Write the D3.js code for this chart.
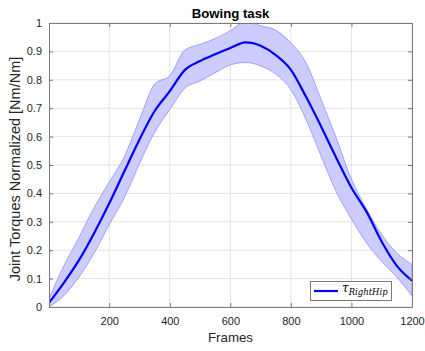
<!DOCTYPE html>
<html><head><meta charset="utf-8">
<script src="https://cdn.jsdelivr.net/npm/d3@7"></script>
<style>body{margin:0;background:#fff}svg{display:block}</style>
</head><body>
<script>
const frames = [1,50,100,150,200,250,300,350,400,450,500,550,600,650,700,750,800,850,900,950,1000,1050,1100,1150,1200];
const meanVals = [0.015,0.085,0.165,0.26,0.365,0.478,0.59,0.69,0.76,0.835,0.866,0.89,0.912,0.932,0.92,0.887,0.835,0.74,0.635,0.525,0.42,0.335,0.23,0.145,0.093];
const upperVals = [0.03,0.145,0.245,0.35,0.44,0.53,0.66,0.785,0.815,0.905,0.925,0.945,0.973,1.005,0.99,0.975,0.93,0.86,0.73,0.595,0.45,0.345,0.255,0.19,0.15];
const lowerVals = [0.0,0.04,0.105,0.19,0.29,0.385,0.505,0.615,0.695,0.77,0.796,0.825,0.852,0.861,0.849,0.82,0.765,0.66,0.53,0.405,0.31,0.225,0.16,0.105,0.04];
const xTicks = [200,400,600,800,1000,1200];
const yTicks = [0,0.1,0.2,0.3,0.4,0.5,0.6,0.7,0.8,0.9,1];

const W=425,H=351;
const m={l:49,r:13,t:23,b:44};
const svg=d3.select("body").append("svg").attr("width",W).attr("height",H);
const x=d3.scaleLinear().domain([1,1200]).range([m.l,W-m.r]);
const y=d3.scaleLinear().domain([0,1]).range([H-m.b,m.t]);
const font="'Liberation Sans', Arial, sans-serif";

svg.append("defs").append("clipPath").attr("id","clip").append("rect")
  .attr("x",m.l).attr("y",m.t).attr("width",W-m.l-m.r).attr("height",H-m.t-m.b);

// grid
const g=svg.append("g");
g.selectAll(".gx").data(xTicks).join("line").attr("x1",d=>x(d)).attr("x2",d=>x(d))
  .attr("y1",m.t).attr("y2",H-m.b).attr("stroke","#e3e3e3").attr("stroke-width",1);
g.selectAll(".gy").data(yTicks).join("line").attr("y1",d=>y(d)).attr("y2",d=>y(d))
  .attr("x1",m.l).attr("x2",W-m.r).attr("stroke","#e3e3e3").attr("stroke-width",1);

const data=frames.map((f,i)=>({f,m:meanVals[i],u:upperVals[i],l:lowerVals[i]}));
const plot=svg.append("g").attr("clip-path","url(#clip)");
plot.append("path").datum(data)
  .attr("d",d3.area().curve(d3.curveMonotoneX).x(d=>x(d.f)).y0(d=>y(d.l)).y1(d=>y(d.u)))
  .attr("fill","rgb(204,204,255)").attr("stroke","rgba(90,90,255,0.6)").attr("stroke-width",0.8);
plot.append("path").datum(data)
  .attr("d",d3.line().curve(d3.curveMonotoneX).x(d=>x(d.f)).y(d=>y(d.m)))
  .attr("fill","none").attr("stroke","#0000ff").attr("stroke-width",2.2);

// axes
const ax=d3.axisBottom(x).tickValues(xTicks).tickFormat(d3.format("d")).tickSizeInner(-4).tickSizeOuter(0).tickPadding(10);
const gx=svg.append("g").attr("transform",`translate(0,${H-m.b})`).call(ax);
const ay=d3.axisLeft(y).tickValues(yTicks).tickFormat(d=>String(+d.toFixed(1))).tickSizeInner(-4).tickSizeOuter(0).tickPadding(7);
const gy=svg.append("g").attr("transform",`translate(${m.l},0)`).call(ay);
const gxt=svg.append("g").attr("transform",`translate(0,${m.t})`).call(d3.axisTop(x).tickValues(xTicks).tickSizeInner(-4).tickSizeOuter(0).tickFormat(""));
const gyr=svg.append("g").attr("transform",`translate(${W-m.r},0)`).call(d3.axisRight(y).tickValues(yTicks).tickSizeInner(-4).tickSizeOuter(0).tickFormat(""));
[gx,gy,gxt,gyr].forEach(a=>{
  a.select(".domain").attr("stroke","#7a7a7a");
  a.selectAll(".tick line").attr("stroke","#7a7a7a");
  a.selectAll("text").attr("fill","#262626").style("font-family",font).style("font-size","11px");
});

svg.append("text").attr("x",(m.l+W-m.r)/2).attr("y",17.5).attr("text-anchor","middle")
  .style("font-family",font).style("font-size","13.2px").style("font-weight","bold").attr("fill","#000").text("Bowing task");
svg.append("text").attr("x",(m.l+W-m.r)/2).attr("y",341.5).attr("text-anchor","middle")
  .style("font-family",font).style("font-size","13.3px").attr("fill","#262626").text("Frames");
svg.append("text").attr("transform",`translate(20,169) rotate(-90)`).attr("text-anchor","middle")
  .style("font-family",font).style("font-size","14.5px").attr("fill","#262626").text("Joint Torques Normalized [Nm/Nm]");

// legend
const lg=svg.append("g");
lg.append("rect").attr("x",310.5).attr("y",281.5).attr("width",81).attr("height",19)
  .attr("fill","#fff").attr("stroke","#7a7a7a").attr("stroke-width",1);
lg.append("line").attr("x1",314).attr("x2",338).attr("y1",291).attr("y2",291).attr("stroke","#0000ff").attr("stroke-width",2.2);
const lt=lg.append("text").attr("x",342).attr("y",292).style("font-family","'DejaVu Serif','Liberation Serif',serif").style("font-style","italic").attr("fill","#000");
lt.append("tspan").style("font-size","12px").text("τ");
lt.append("tspan").attr("dy",3).style("font-size","8.5px").text("RightHip");
</script>
</body></html>
